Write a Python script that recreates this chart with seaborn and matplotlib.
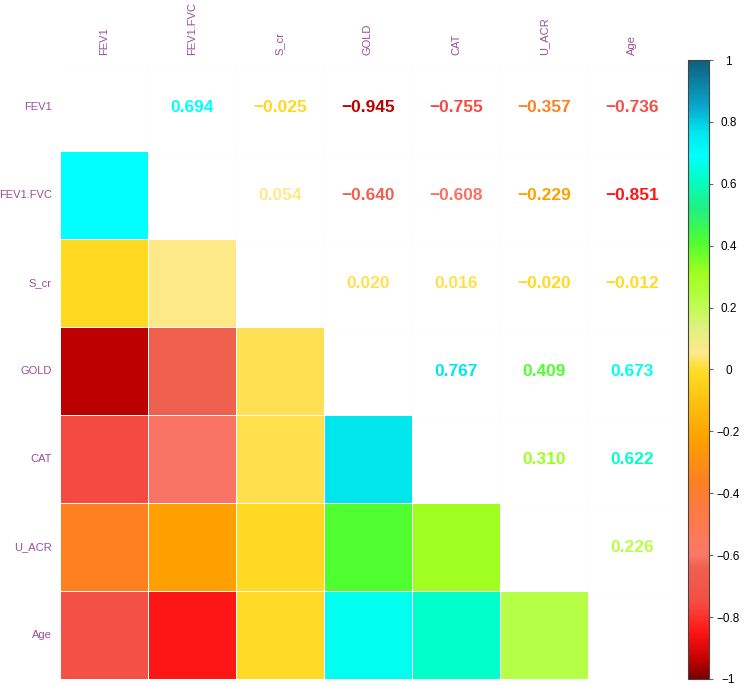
import numpy as np
import pandas as pd
import matplotlib
matplotlib.use('Agg')
import matplotlib.pyplot as plt
import seaborn as sns
from matplotlib.colors import LinearSegmentedColormap, Normalize

# variáveis e matriz de correlação
variaveis = ['FEV1', 'FEV1.FVC', 'S_cr', 'GOLD', 'CAT', 'U_ACR', 'Age']
fev1 = [1.0, 0.694, -0.025, -0.945, -0.755, -0.357, -0.736]
fev1_fvc = [0.694, 1.0, 0.054, -0.640, -0.608, -0.229, -0.851]
s_cr = [-0.025, 0.054, 1.0, 0.020, 0.016, -0.020, -0.012]
gold = [-0.945, -0.640, 0.020, 1.0, 0.767, 0.409, 0.673]
cat = [-0.755, -0.608, 0.016, 0.767, 1.0, 0.310, 0.622]
u_acr = [-0.357, -0.229, -0.020, 0.409, 0.310, 1.0, 0.226]
age = [-0.736, -0.851, -0.012, 0.673, 0.622, 0.226, 1.0]

cbar_ticks = [-1, -0.8, -0.6, -0.4, -0.2, 0, 0.2, 0.4, 0.6, 0.8, 1]
cbar_labels = ['\u22121', '\u22120.8', '\u22120.6', '\u22120.4', '\u22120.2', '0',
               '0.2', '0.4', '0.6', '0.8', '1']

corr = pd.DataFrame([fev1, fev1_fvc, s_cr, gold, cat, u_acr, age],
                    index=variaveis, columns=variaveis)

# paleta parecida com a do corrplot
ancoras = [(-1.0, '#7A0000'), (-0.94, '#C20000'), (-0.85, '#FF1515'),
           (-0.75, '#F44E44'), (-0.64, '#F0604F'), (-0.6, '#FA7868'),
           (-0.45, '#FF7A40'), (-0.357, '#FF8020'), (-0.229, '#FFA000'),
           (-0.1, '#FFC210'), (-0.025, '#FFD820'), (0.0, '#FFDC30'),
           (0.02, '#FFE050'), (0.054, '#FDE98A'), (0.13, '#E0F080'),
           (0.226, '#B5FF45'), (0.31, '#A0FF20'), (0.409, '#50FF30'),
           (0.52, '#20F080'), (0.622, '#00FFC8'), (0.694, '#00FFFF'),
           (0.767, '#00E8EE'), (0.85, '#08A8CC'), (1.0, '#0E5E7E')]
cmap = LinearSegmentedColormap.from_list('corr', [((v + 1) / 2, c) for v, c in ancoras], N=512)
norm = Normalize(-1, 1)

plt.rcParams['font.family'] = ['Liberation Sans', 'DejaVu Sans']
roxo = '#9B4D99'

fig = plt.figure(figsize=(7.5, 6.85), dpi=100)
ax = fig.add_axes([0.08, 0.0088, 0.8213, 0.899])
cax = fig.add_axes([0.9173, 0.0088, 0.028, 0.9036])

n = len(variaveis)
mask = np.triu(np.ones((n, n), dtype=bool))
sns.heatmap(corr, mask=mask, cmap=cmap, vmin=-1, vmax=1, linewidths=0.7,
            linecolor='white', ax=ax, cbar_ax=cax)
cbar = ax.collections[0].colorbar

# grade clara por baixo (parte vazia)
ax.hlines(range(n + 1), 0, n, color='#E6E6F0', lw=0.8, zorder=0.5)
ax.vlines(range(n + 1), 0, n, color='#E6E6F0', lw=0.8, zorder=0.5)

# números no triângulo superior, com a cor da escala
for i in range(n):
    for j in range(i + 1, n):
        v = corr.iloc[i, j]
        txt = f'{v:.3f}'.replace('-', '\u2212')
        ax.text(j + 0.5, i + 0.5, txt, ha='center', va='center',
                fontsize=12.5, fontweight='bold', color=cmap(norm(v)))

ax.xaxis.tick_top()
ax.set_xticks(np.arange(n) + 0.5)
ax.set_xticklabels(variaveis, rotation=90)
ax.set_yticks(np.arange(n) + 0.5)
ax.set_yticklabels(variaveis, rotation=0)
ax.tick_params(length=0, pad=6, labelsize=8, labelcolor=roxo)
ax.set_xlabel('')
ax.set_ylabel('')
for s in ax.spines.values():
    s.set_visible(False)

cbar.set_ticks(cbar_ticks)
cbar.set_ticklabels(cbar_labels)
cbar.ax.tick_params(labelsize=8.5, length=3, width=0.8, color='#666666', pad=11)
for lbl in cbar.ax.get_yticklabels():
    lbl.set_horizontalalignment('center')
cbar.outline.set_edgecolor('#444444')
cbar.outline.set_linewidth(0.8)

fig.savefig('out.png', dpi=100)
